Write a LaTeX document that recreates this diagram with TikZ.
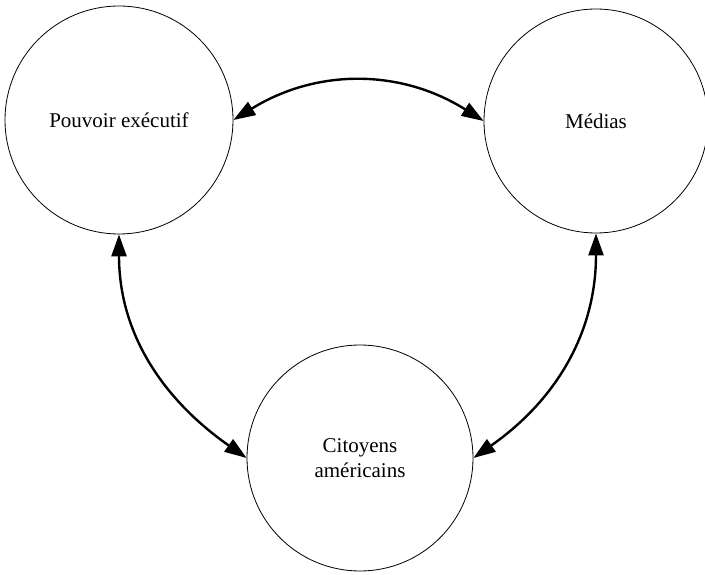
\documentclass[tikz,border=0pt]{standalone}
\usepackage{fontspec}
\setmainfont{Liberation Serif}
\usetikzlibrary{arrows.meta}
\begin{document}
\begin{tikzpicture}[x=1pt,y=1pt,
  entity/.style={circle,draw,line width=0.8pt,font=\fontsize{21}{25}\selectfont,align=center,inner sep=0pt},
  link/.style={line width=2.4pt,{Triangle[length=22pt,width=15pt]}-{Triangle[length=22pt,width=15pt]}}]
\useasboundingbox (0,0) rectangle (705,574);
\node[entity,minimum size=228pt] (pe) at (119,454) {Pouvoir exécutif};
\node[entity,minimum size=224pt] (me) at (596,453) {Médias};
\node[entity,minimum size=226pt] (ci) at (360,116) {Citoyens\\américains};
\draw[link] (pe.east) to[bend left=32] (me.west);
\draw[link] (pe.south) to[out=-90,in=145] (ci.west);
\draw[link] (me.south) to[out=-90,in=35] (ci.east);
\end{tikzpicture}
\end{document}
